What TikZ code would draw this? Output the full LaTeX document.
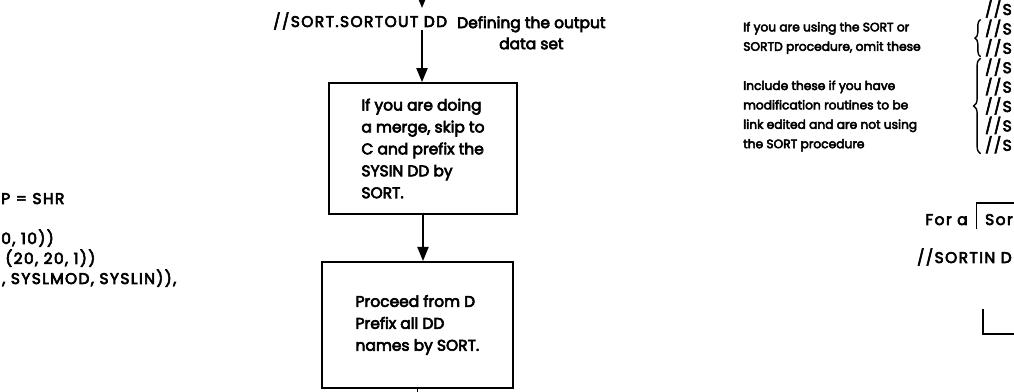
\documentclass[tikz,border=0pt]{standalone}
\usepackage{fontspec}
\setmainfont{Poppins}[FakeBold=4]
\newfontfamily\codefont{Poppins}[FakeBold=4, LetterSpace=9]
\usetikzlibrary{positioning}
\usetikzlibrary{arrows.meta}
\usetikzlibrary{decorations.pathreplacing}
\tikzstyle{line} = [draw, line width=1.1pt, -{Triangle[width=8pt,length=10pt]}]

\begin{document}
\begin{tikzpicture}[x=0.025cm, y=-0.025cm,
				internal/.style={draw, rectangle, line width=1.3pt, align=left, font=\fontsize{11}{15.6}\selectfont},
				code/.style={inner sep=0pt, font=\codefont\fontsize{11}{15}\selectfont},
				note/.style={inner sep=0pt, align=left, font=\fontsize{8.7}{13.8}\selectfont}]
				\useasboundingbox (0,0) rectangle (1014,392);
				
				\coordinate (top) at (422,0);
				\node[code, anchor=base west](node1) at (273,27) {//SORT.SORTOUT DD};
				\node[inner sep=0pt, align=center, anchor=north west, font=\fontsize{11}{15}\selectfont](node11) at (457,16) {Defining the output\\data set};
				
				\node[internal, minimum width=4.7cm, minimum height=3.275cm](node2) at (423,148.5) {If you are doing\\a merge, skip to\\C and prefix the\\SYSIN DD by\\SORT.};
				\node[internal, minimum width=4.775cm, minimum height=3.15cm, below=1.15cm of node2, xshift=-0.14cm](node3) {Proceed from D\\Prefix all DD\\names by SORT.};
				\coordinate[below=0.3cm of node3.south](exit);
				
				\draw [line, shorten >=3pt] (top) -- (top |- node1.north);
				\draw [line] (top |- node1.south) -- (top |- node2.north);
				\draw [line] (node2.south) -- (node2.south |- node3.north);
				\draw [line width=1.1pt] (node3.south) -- (exit);
				
				% left margin
				\node[code, anchor=base west](node4) at (1,204) {P = SHR};
				\node[code, anchor=base west](node5) at (1,244) {0, 10))};
				\node[code, anchor=base west](node6) at (5,264) {(20, 20, 1))};
				\node[code, anchor=base west](node7) at (2,284) {, SYSLMOD, SYSLIN)),};
				
				% right margin
				\node[note, anchor=west](node8) at (743,38) {If you are using the SORT or\\SORTD procedure, omit these};
				\node[note, anchor=west](node9) at (743,116) {Include these if you have\\modification routines to be\\link edited and are not using\\the SORT procedure};
				\foreach \i in {0,...,7}
					\node[code, anchor=east](jcl\i) at (1012,9+19.4*\i) {//S};
				\draw [line width=1pt, decorate, decoration={brace, amplitude=4pt}] ([xshift=-3pt]jcl2.south west) -- ([xshift=-3pt]jcl1.north west);
				\draw [line width=1pt, decorate, decoration={brace, amplitude=5pt}] ([xshift=-3pt]jcl7.south west) -- ([xshift=-3pt]jcl3.north west);
				
				\node[code, anchor=base east](node12) at (1013,225) {Sor};
				\draw [line width=1.3pt] ([xshift=-6]node12.south west) ++(0,4) |- (1014,203);
				\node[code, left=17 of node12.base west, anchor=base east](node10) {For a};
				\node[code, anchor=base east](node13) at (1012,263) {//SORTIN D};
				\draw [line width=1.3pt] (983,309) |- (1014,334);
			\end{tikzpicture}
\end{document}
